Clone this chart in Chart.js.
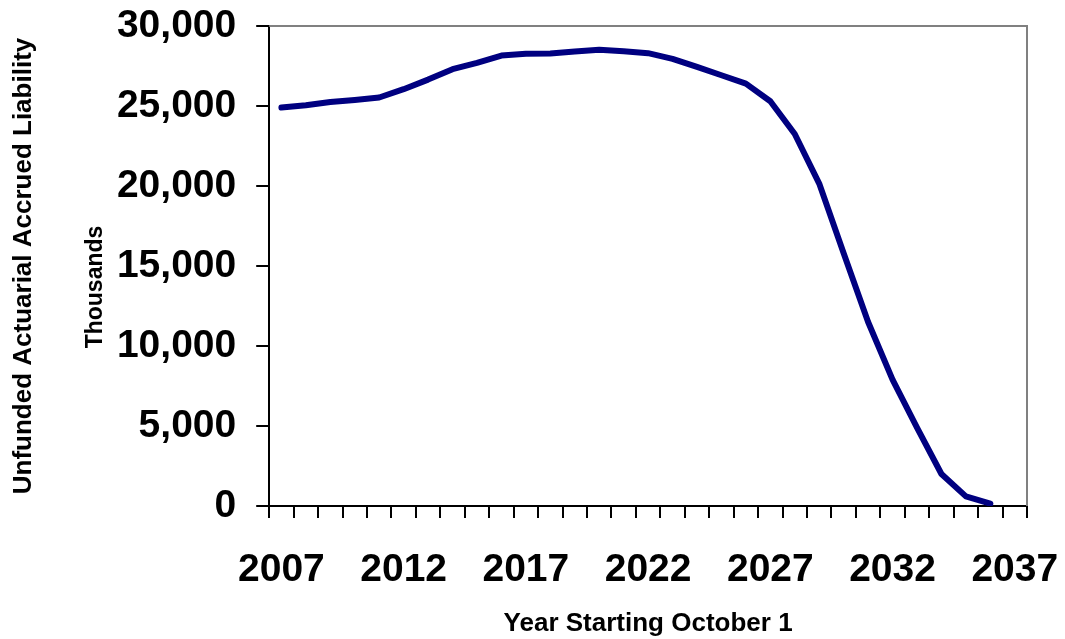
<!DOCTYPE html>
<html>
<head>
<meta charset="utf-8">
<script src="https://cdn.jsdelivr.net/npm/chart.js@4.4.0/dist/chart.umd.min.js"></script>
<style>
  body { margin: 0; background: #fff; }
  #wrap { width: 1065px; height: 639px; }
</style>
</head>
<body>
<div id="wrap"><canvas id="ualChart" width="1065" height="639"></canvas></div>
<script>
const years = [];
for (let y = 2007; y <= 2037; y++) years.push(String(y));

// unfunded liability, thousands of dollars, 2007-2036
const liability = [
    24900, 25050, 25250, 25380, 25530, 26050, 26650, 27300, 27700, 28150,
    28270, 28280, 28400, 28520, 28420, 28300, 27950, 27450, 26920, 26400,
    25300, 23250, 20150, 15800, 11500, 7900, 4900, 2000, 600, 150
];

const yTicks = { min: 0, max: 30000, step: 5000 };

const fontFamily = '"Liberation Sans", Arial, Helvetica, sans-serif';

// gray top/right border of the plot area plus the small "Thousands" caption
const frame = {
    id: 'frame',
    afterDraw(chart) {
        const { ctx, chartArea: a } = chart;
        ctx.save();
        ctx.strokeStyle = '#808080';
        ctx.lineWidth = 2;
        ctx.beginPath();
        ctx.moveTo(a.left, a.top);
        ctx.lineTo(a.right, a.top);
        ctx.lineTo(a.right, a.bottom);
        ctx.stroke();

        ctx.translate(a.left - 174, (a.top + a.bottom) / 2 + 21);
        ctx.rotate(-Math.PI / 2);
        ctx.fillStyle = '#000';
        ctx.font = 'bold 23px ' + fontFamily;
        ctx.textAlign = 'center';
        ctx.textBaseline = 'middle';
        ctx.fillText('Thousands', 0, 0);
        ctx.restore();
    }
};

const ctx = document.getElementById('ualChart').getContext('2d');
const chart = new Chart(ctx, {
    type: 'line',
    data: {
        labels: years,
        datasets: [{
            data: liability,
            borderColor: '#000080',
            borderWidth: 6,
            borderCapStyle: 'round',
            borderJoinStyle: 'round',
            pointRadius: 0,
            tension: 0,
            fill: false
        }]
    },
    options: {
        responsive: false,
        animation: false,
        layout: { padding: { top: 26, right: 38, bottom: 0, left: 0 } },
        plugins: {
            legend: { display: false },
            tooltip: { enabled: false },
            title: {
                display: true,
                position: 'left',
                fullSize: false,
                text: 'Unfunded Actuarial Accrued Liability',
                color: '#000',
                font: { family: fontFamily, size: 26, weight: 'bold' },
                padding: { top: 8, bottom: 0 }
            }
        },
        scales: {
            x: {
                offset: true,
                afterFit(scale) {
                    scale.height = 133;
                    scale.paddingLeft = 0;
                    scale.paddingRight = 0;
                },
                grid: {
                    offset: true,
                    drawOnChartArea: false,
                    drawTicks: true,
                    tickLength: 12,
                    color: '#000',
                    lineWidth: 2
                },
                border: { display: true, color: '#000', width: 2 },
                ticks: {
                    autoSkip: false,
                    maxRotation: 0,
                    padding: 29,
                    color: '#000',
                    font: { family: fontFamily, size: 39, weight: 'bold' },
                    callback: (v, i) => (i % 5 === 0 ? years[i] : '')
                },
                title: {
                    display: true,
                    text: 'Year Starting October 1',
                    color: '#000',
                    font: { family: fontFamily, size: 26, weight: 'bold' },
                    padding: { top: 0, bottom: 0 }
                }
            },
            y: {
                min: yTicks.min,
                max: yTicks.max,
                afterFit(scale) {
                    scale.width = 230;
                    scale.paddingTop = 0;
                    scale.paddingBottom = 0;
                },
                grid: {
                    drawOnChartArea: false,
                    drawTicks: true,
                    tickLength: 13,
                    color: '#000',
                    lineWidth: 2
                },
                border: { display: true, color: '#000', width: 2 },
                ticks: {
                    stepSize: yTicks.step,
                    padding: 20,
                    color: '#000',
                    font: { family: fontFamily, size: 39, weight: 'bold' },
                    callback: v => v.toLocaleString('en-US')
                }
            }
        }
    },
    plugins: [frame]
});
</script>
</body>
</html>
